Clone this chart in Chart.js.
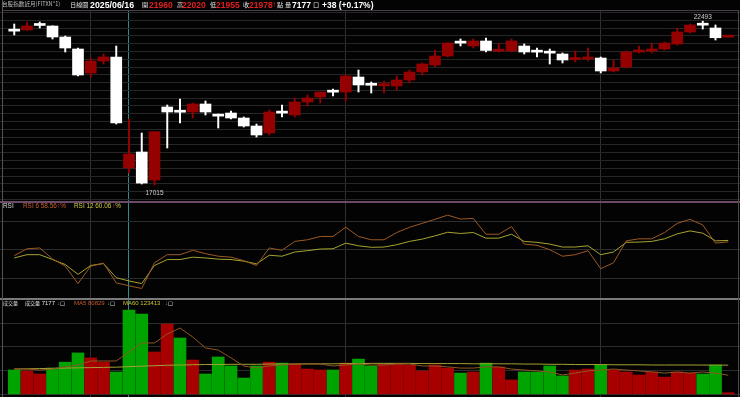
<!DOCTYPE html>
<html lang="zh-Hant">
<head>
<meta charset="utf-8">
<title>台股指數近月 日線圖</title>
<script src="https://cdn.jsdelivr.net/npm/chart.js@4.4.1/dist/chart.umd.min.js"></script>
<style>
html,body{margin:0;padding:0;background:#000;}
#wrap{position:relative;width:740px;height:397px;background:#030303;overflow:hidden;}
canvas{position:absolute;left:0;display:block;}
.t{position:absolute;white-space:nowrap;line-height:1;font-family:"Liberation Sans",Arial,sans-serif;color:#e0e0e0;}
.c{font-family:"Noto Sans CJK TC","Noto Sans CJK SC",sans-serif;}
.b{font-weight:bold;}
.ln{position:absolute;}
</style>
</head>
<body>
<div id="wrap">
<canvas id="cK" width="740" height="190" style="top:11px"></canvas>
<canvas id="cR" width="740" height="97" style="top:202px"></canvas>
<canvas id="cV" width="740" height="98" style="top:299px"></canvas>

<div class="ln" style="left:3px;top:10px;width:736px;height:1px;background:#4a3d4a"></div>
<div class="ln" style="left:0;top:201px;width:740px;height:2px;background:#6a4a64"></div>
<div class="ln" style="left:0;top:298px;width:740px;height:2px;background:#7a7a7a"></div>
<div class="ln" style="left:2px;top:0;width:1px;height:397px;background:#555"></div>
<div class="ln" style="left:738px;top:10px;width:1px;height:387px;background:#4a4a4a"></div>

<!-- header -->
<span class="t c" style="left:2px;top:2px;font-size:5.6px;color:#bdbdbd">台股指數近月(FITXN*1)</span>
<span class="t c" style="left:70px;top:2px;font-size:6.2px">日線圖</span>
<span class="t b" style="left:90px;top:1px;font-size:8.8px;color:#fff">2025/06/16</span>
<span class="t c" style="left:142px;top:2px;font-size:6.2px">開</span>
<span class="t b" style="left:149px;top:1px;font-size:8.5px;color:#e02020">21960</span>
<span class="t c" style="left:177px;top:2px;font-size:6.2px">高</span>
<span class="t b" style="left:182px;top:1px;font-size:8.5px;color:#e02020">22020</span>
<span class="t c" style="left:210px;top:2px;font-size:6.2px">低</span>
<span class="t b" style="left:216px;top:1px;font-size:8.5px;color:#e02020">21955</span>
<span class="t c" style="left:243px;top:2px;font-size:6.2px">收</span>
<span class="t b" style="left:249px;top:1px;font-size:8.5px;color:#e02020">21978</span>
<span class="t b" style="left:272px;top:1px;font-size:8px;color:#e02020">↑</span>
<span class="t c" style="left:277px;top:2px;font-size:6.2px">點</span>
<span class="t c" style="left:285px;top:2px;font-size:6.2px">量</span>
<span class="t b" style="left:292px;top:1px;font-size:8.5px;color:#fff">7177</span>
<span class="t c" style="left:313px;top:2px;font-size:6.2px">口</span>
<span class="t b" style="left:322px;top:1px;font-size:8.5px;color:#fff">+38 (+0.17%)</span>

<!-- RSI header -->
<span class="t" style="left:3px;top:202.5px;font-size:6.4px;color:#d8d8d8">RSI</span>
<span class="t" style="left:23px;top:202.5px;font-size:6.4px;color:#c8602e">RSI 6 58.56</span>
<span class="t" style="left:57px;top:202.5px;font-size:6.4px;color:#e03030">↑<span style="color:#c8602e">%</span></span>
<span class="t" style="left:74px;top:202.5px;font-size:6.4px;color:#d0cc40">RSI 12 60.06</span>
<span class="t" style="left:112px;top:202.5px;font-size:6.4px;color:#e03030">↑<span style="color:#d0cc40">%</span></span>

<!-- Volume header -->
<span class="t c" style="left:3px;top:299.5px;font-size:5px;color:#d8d8d8">成交量</span>
<span class="t" style="left:25px;top:299.5px;font-size:6px;color:#e0e0e0"><span class="c" style="font-size:5px">成交量</span> 7177</span>
<span class="t" style="left:57px;top:299.5px;font-size:6px;color:#20c020">↓<span class="c" style="font-size:5px;color:#d8d8d8">口</span></span>
<span class="t" style="left:74px;top:299.5px;font-size:6px;color:#c8582e">MA5 80829</span>
<span class="t" style="left:107px;top:299.5px;font-size:6px;color:#20c020">↓<span class="c" style="font-size:5px;color:#d8d8d8">口</span></span>
<span class="t" style="left:123px;top:299.5px;font-size:6px;color:#c8c43a">MA60 123413</span>
<span class="t" style="left:165px;top:299.5px;font-size:6px;color:#20c020">↓<span class="c" style="font-size:5px;color:#d8d8d8">口</span></span>
</div>

<script>
// ---------------- data ----------------
const dates = [
 '2025/03/24','2025/03/25','2025/03/26','2025/03/27','2025/03/28','2025/03/31',
 '2025/04/01','2025/04/02','2025/04/07','2025/04/08','2025/04/09','2025/04/10','2025/04/11','2025/04/14','2025/04/15','2025/04/16','2025/04/17','2025/04/18','2025/04/21','2025/04/22','2025/04/23','2025/04/24','2025/04/25','2025/04/28','2025/04/29','2025/04/30',
 '2025/05/02','2025/05/05','2025/05/06','2025/05/07','2025/05/08','2025/05/09','2025/05/12','2025/05/13','2025/05/14','2025/05/15','2025/05/16','2025/05/19','2025/05/20','2025/05/21','2025/05/22','2025/05/23','2025/05/26','2025/05/27','2025/05/28','2025/05/29',
 '2025/06/02','2025/06/03','2025/06/04','2025/06/05','2025/06/06','2025/06/09','2025/06/10','2025/06/11','2025/06/12','2025/06/13','2025/06/16'
];
const opens  = [22168,22199,22360,22332,21965,21563,20761,21162,21296,17584,18119,17183,19624,19465,19457,19724,19328,19423,19256,18989,18755,19470,19356,19791,19958,20130,20125,20627,20370,20335,20326,20527,20794,21028,21329,21770,21664,21831,21490,21497,21664,21468,21435,21396,21212,21229,21262,20828,20962,21463,21497,21563,21731,22132,22370,22266,21960];
const highs  = [22399,22466,22466,22340,21998,21597,21262,21396,21664,19223,18754,18800,19691,19891,19758,19825,19390,19490,19290,19055,19524,19691,19925,20025,20130,20226,20694,20861,20460,20493,20661,20861,21095,21530,21770,21898,21898,21931,21764,21898,21731,21597,21563,21430,21497,21597,21296,21196,21497,21664,21764,21798,22266,22399,22493,22366,22020];
const lows   = [22032,22190,22266,21898,21463,20661,20627,21062,19055,17417,17050,17015,18253,19089,19256,19356,18922,19223,18955,18621,18688,19290,19290,19657,19758,19992,19825,20125,20092,20092,20192,20426,20694,20962,21296,21664,21597,21463,21463,21463,21396,21296,21062,21095,21129,21162,20761,20794,20928,21430,21430,21530,21697,22098,22232,21864,21955];
const closes = [22160,22332,22350,21965,21597,20694,21162,21296,19089,18052,17080,18798,19457,19450,19724,19457,19318,19256,18989,18688,19457,19420,19791,19925,20125,20120,20661,20360,20350,20360,20527,20794,21062,21329,21764,21760,21831,21515,21525,21831,21463,21458,21425,21196,21246,21296,20828,20928,21463,21530,21563,21764,22132,22366,22360,21940,21978];
const volumes = [103000,98700,86000,111000,136000,175000,154000,136000,94500,356000,339000,179000,297000,238000,145000,86000,158000,120000,69000,120000,136000,132000,128000,107000,103000,103000,132000,149000,120000,128000,128000,124000,99000,124000,111000,90000,94500,132000,116000,61000,94500,94500,120000,78000,103000,107000,124000,103000,94500,82000,94500,73000,94500,90000,86000,124000,7177];
const volMA5 = [107000,107000,103000,107000,116000,124000,141000,141000,141000,179000,217000,217000,255000,280000,242000,196000,187000,154000,120000,111000,120000,124000,128000,128000,128000,120000,124000,128000,124000,124000,128000,128000,120000,120000,116000,111000,111000,116000,116000,107000,103000,99000,94500,82000,90000,99000,103000,107000,103000,99000,95000,90000,94500,90000,94500,90000,80829];
const volMA60 = [107000,108000,109000,110000,111000,112000,113000,114000,115000,117000,119000,121000,123000,124000,125000,126000,126000,127000,127000,127000,128000,128000,128000,129000,129000,129000,130000,130000,131000,131000,131000,131000,130000,130000,130000,130000,129000,129000,129000,129000,128000,128000,127000,127000,126000,126000,126000,125000,125000,125000,124000,124000,124000,124000,123800,123600,123413];
const rsi6  = [44.1,51.3,52.1,40.7,33.1,14.8,33.1,36.2,15.6,12.5,9.7,36.6,45.1,45.1,49.7,46.2,43.5,42.5,38.9,33.8,52.1,49.7,59.0,60.7,64.2,64.2,73.8,64.2,60.7,60.7,68.3,73.8,77.9,82.1,86.5,82.4,83.1,66.5,66.5,74.5,56.2,54.9,50.3,43.5,45.1,49.3,30.4,36.6,59.6,61.7,61.7,68.3,77.9,82.1,76.2,57.2,58.56];
const rsi12 = [41.7,45.1,45.1,40.0,34.8,24.5,33.8,35.8,21.0,17.6,14.8,33.8,40.0,40.0,42.5,41.7,40.4,40.0,38.3,35.5,44.5,43.5,47.9,49.3,51.0,51.3,57.2,54.4,52.8,53.1,55.5,59.0,61.4,64.8,68.6,67.3,68.3,62.4,62.4,66.5,59.0,58.0,56.2,53.1,53.1,54.4,45.1,47.9,58.0,58.3,59.0,61.7,66.9,70.0,67.6,59.6,60.06];
const crosshairDate = '2025/04/08';
const rsiGuides = [20, 50, 80];
const volGuides = [0, 100000, 200000, 300000];

// ---------------- styling / scale setup ----------------
const UP_CANDLE = '#950000', DOWN_CANDLE = '#ffffff';
const VOL_UP = '#a80000', VOL_DOWN = '#00a400';
const X_MIN = -1.1176, X_MAX = 56.922;
const P_MIN = 16481, P_MAX = 22834, P_GRID_TOP = 22784, P_GRID_STEP = 260.5;

const crossIdx = dates.indexOf(crosshairDate);
const monthStarts = dates.map((d,i)=> i>0 && d.slice(0,7)!==dates[i-1].slice(0,7) ? i : -1).filter(i=>i>=0);
const vTicks = monthStarts.concat([crossIdx]).sort((a,b)=>a-b);

const isUp = closes.map((c,i)=> c > opens[i]);
const candleColors = isUp.map(u => u ? UP_CANDLE : DOWN_CANDLE);
const volColors = closes.map((c,i)=> (i===0 ? c>opens[i] : c>closes[i-1]) ? VOL_UP : VOL_DOWN);

function xScale(){
  return {type:'linear', min:X_MIN, max:X_MAX, display:true, offset:false,
    ticks:{display:false}, border:{display:false},
    grid:{offset:false, drawTicks:false, lineWidth:1, color:(c)=> (c.tick && c.tick.value===crossIdx) ? '#2a8e8e' : '#303030'},
    afterBuildTicks:(s)=>{ s.ticks = vTicks.map(v=>({value:v})); }};
}
function yScale(min,max,tickFn,color){
  return {type:'linear', min:min, max:max, display:true,
    ticks:{display:false}, border:{display:false},
    grid:{offset:false, drawTicks:false, lineWidth:1, color:color},
    afterBuildTicks:(s)=>{ s.ticks = tickFn().map(v=>({value:v})); }};
}
const base = {responsive:false, maintainAspectRatio:false, animation:false, devicePixelRatio:1, events:[],
  layout:{padding:0, autoPadding:false},
  plugins:{legend:{display:false}, tooltip:{enabled:false}}};

const extremes = {
  id:'extremes',
  afterDatasetsDraw(chart){
    const {ctx, scales:{x,y}} = chart;
    const hiVal = Math.max(...highs), loVal = Math.min(...lows);
    const hi = highs.indexOf(hiVal), lo = lows.indexOf(loVal);
    ctx.save();
    ctx.font = '6.5px "Liberation Sans", Arial, sans-serif';
    ctx.fillStyle = '#cfcfcf';
    ctx.textAlign = 'center';
    ctx.textBaseline = 'bottom';
    ctx.fillText(String(hiVal), x.getPixelForValue(hi), y.getPixelForValue(hiVal) - 0.5);
    ctx.textBaseline = 'top';
    ctx.fillText(String(loVal), x.getPixelForValue(lo), y.getPixelForValue(loVal) + 4.5);
    ctx.restore();
  }
};

// ---------------- candlestick panel ----------------
new Chart(document.getElementById('cK'), {
  type:'bar',
  data:{ datasets:[
    {label:'實體', data: dates.map((d,i)=>({x:i, y:[opens[i], closes[i]]})), backgroundColor:candleColors,
     grouped:false, barThickness:11, maxBarThickness:11, minBarLength:2, borderWidth:0, order:0},
    {label:'影線', data: dates.map((d,i)=>({x:i, y:[lows[i], highs[i]]})), backgroundColor:candleColors,
     grouped:false, barThickness:1.3, maxBarThickness:1.3, borderWidth:0, order:1}
  ]},
  options: Object.assign({}, base, {
    scales:{ x:xScale(),
      y:yScale(P_MIN, P_MAX, ()=>{const t=[]; for(let v=P_GRID_TOP; v>P_MIN; v-=P_GRID_STEP) t.push(v); return t;}, '#262626') }
  }),
  plugins:[extremes]
});

// ---------------- RSI panel ----------------
new Chart(document.getElementById('cR'), {
  type:'line',
  data:{ datasets:[
    {label:'RSI 6', data: rsi6.map((v,i)=>({x:i,y:v})), borderColor:'#9c5a26', borderWidth:1, pointRadius:0, tension:0},
    {label:'RSI 12', data: rsi12.map((v,i)=>({x:i,y:v})), borderColor:'#a6a42e', borderWidth:1, pointRadius:0, tension:0}
  ]},
  options: Object.assign({}, base, {
    scales:{ x:xScale(), y:yScale(-1.31, 100.26, ()=>rsiGuides, '#2c2c2c') }
  })
});

// ---------------- Volume panel ----------------
new Chart(document.getElementById('cV'), {
  type:'bar',
  data:{ datasets:[
    {type:'line', label:'MA5', data: volMA5.map((v,i)=>({x:i,y:v})), borderColor:'#8e5624', borderWidth:1, pointRadius:0, tension:0, order:0},
    {type:'line', label:'MA60', data: volMA60.map((v,i)=>({x:i,y:v})), borderColor:'#a4a232', borderWidth:1, pointRadius:0, tension:0, order:0},
    {type:'bar', label:'成交量', data: volumes.map((v,i)=>({x:i,y:v})), backgroundColor:volColors,
     grouped:false, barThickness:12, maxBarThickness:12, borderWidth:0, order:1}
  ]},
  options: Object.assign({}, base, {
    scales:{ x:xScale(), y:yScale(-10969, 402493, ()=>volGuides, '#2c2c2c') }
  })
});
</script>
</body>
</html>
